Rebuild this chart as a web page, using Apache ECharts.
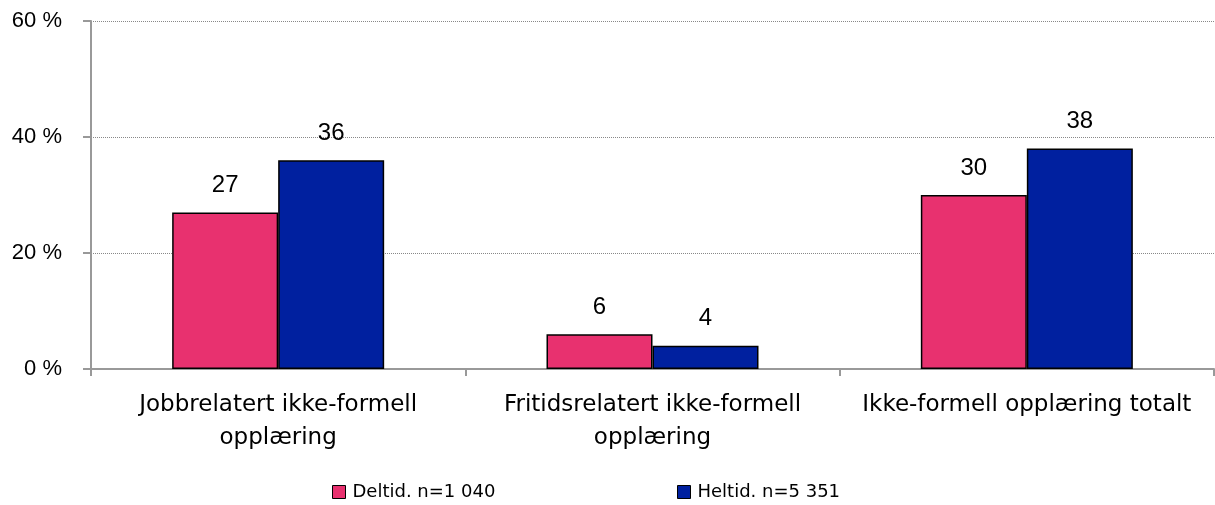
<!DOCTYPE html>
<html><head><meta charset="utf-8">
<script src="https://cdn.jsdelivr.net/npm/echarts@6/dist/echarts.min.js"></script>
<style>html,body{margin:0;padding:0;background:#fff}#c{width:1215px;height:505px}</style>
</head><body><div id="c"></div>
<script>
const categories = ['Jobbrelatert ikke-formell\nopplæring', 'Fritidsrelatert ikke-formell\nopplæring', 'Ikke-formell opplæring totalt'];
const seriesNames = ['Deltid. n=1 040', 'Heltid. n=5 351'];
const deltid = [27, 6, 30];
const heltid = [36, 4, 38];
const yTicks = { min: 0, max: 60, interval: 20 };

const chart = echarts.init(document.getElementById('c'));
const labelFont = 'Liberation Sans, Arial, sans-serif';
const catFont = 'DejaVu Sans, sans-serif';
chart.setOption({
  animation: false,
  grid: { left: 91, right: 1, top: 21, bottom: 136 },
  legend: [
    { data: [seriesNames[0]], left: 327, top: 478, itemWidth: 13, itemHeight: 13, icon: 'rect',
      itemStyle: { borderColor: '#000', borderWidth: 1 },
      textStyle: { fontFamily: catFont, fontSize: 18, color: '#000', padding: [0, 0, 0, 2] } },
    { data: [seriesNames[1]], left: 672, top: 478, itemWidth: 13, itemHeight: 13, icon: 'rect',
      itemStyle: { borderColor: '#000', borderWidth: 1 },
      textStyle: { fontFamily: catFont, fontSize: 18, color: '#000', padding: [0, 0, 0, 2] } }
  ],
  xAxis: {
    type: 'category', data: categories,
    axisLine: { lineStyle: { color: '#999', width: 2 } },
    axisTick: { show: true, length: 7, lineStyle: { color: '#999', width: 2 } },
    axisLabel: { fontFamily: catFont, fontSize: 23, color: '#000', lineHeight: 33, margin: 20, interval: 0 }
  },
  yAxis: {
    type: 'value', min: yTicks.min, max: yTicks.max, interval: yTicks.interval,
    axisLine: { show: true, lineStyle: { color: '#999', width: 2 } },
    axisTick: { show: true, length: 8, lineStyle: { color: '#999', width: 2 } },
    axisLabel: { formatter: '{value} %', fontFamily: labelFont, fontSize: 22, color: '#000', margin: 29 },
    splitLine: { lineStyle: { color: '#888', type: [1, 1], width: 1 } }
  },
  series: [
    { name: seriesNames[0], type: 'bar', data: deltid, barWidth: 106, barGap: '0%',
      itemStyle: { color: '#E8316F', borderColor: '#000', borderWidth: 1.5 },
      label: { show: true, position: 'top', distance: 15, fontFamily: labelFont, fontSize: 24, color: '#000' } },
    { name: seriesNames[1], type: 'bar', data: heltid, barWidth: 106, barGap: '0%',
      itemStyle: { color: '#00209F', borderColor: '#000', borderWidth: 1.5 },
      label: { show: true, position: 'top', distance: 15, fontFamily: labelFont, fontSize: 24, color: '#000' } }
  ]
});
</script></body></html>
